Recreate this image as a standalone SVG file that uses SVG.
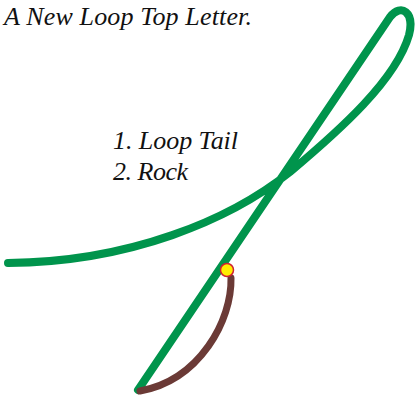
<svg xmlns="http://www.w3.org/2000/svg" width="417" height="404" viewBox="0 0 417 404">
<style>
text{font-family:'Liberation Serif','Times New Roman',serif;font-style:italic;font-size:26px;fill:#111}
.g{fill:none;stroke:#00944c;stroke-width:8;stroke-linecap:round;stroke-linejoin:round}
.b{fill:none;stroke:#6b3a36;stroke-width:7;stroke-linecap:round}
</style>
<rect width="417" height="404" fill="#fff"/>
<text x="4" y="25" textLength="248">A New Loop Top Letter.</text>
<text x="113" y="149" textLength="125">1. Loop Tail</text>
<text x="113" y="180" textLength="75">2. Rock</text>
<g id="connectors">
<path id="loop" class="g" d="M 8,263 C 130,262 230,220 290,172 C 340,130 396,80 409,35 C 415,12 401,3 390,17 L 138,390"/>
<path id="tail" class="b" d="M 231,278 C 232,320 200,380 140,391"/>
</g>
<g id="point">
<circle cx="227" cy="270" r="6.5" fill="#ffee00" stroke="#d02030" stroke-width="1.5"/>
</g>
</svg>
